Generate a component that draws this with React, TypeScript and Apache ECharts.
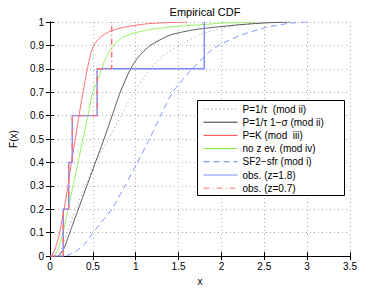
import React, { useEffect, useRef } from "react";
import * as echarts from "echarts";

// ---- data ----
const xTicks = [0, 0.5, 1, 1.5, 2, 2.5, 3, 3.5];
const yTicks = [0, 0.1, 0.2, 0.3, 0.4, 0.5, 0.6, 0.7, 0.8, 0.9, 1];

const seriesNames = [
  "P=1/τ  (mod ii)",
  "P=1/τ 1−σ (mod ii)",
  "P=K (mod  iii)",
  "no z ev. (mod iv)",
  "SF2−sfr (mod i)",
  "obs. (z=1.8)",
  "obs. (z=0.7)",
];

// P=1/tau (mod ii) – dotted
const dotX = [0.1, 0.2, 0.3, 0.41, 0.53, 0.68, 0.83, 0.98, 1.17, 1.32, 1.5, 1.75, 2.02, 2.35, 2.7];
const dotF = [0, 0.1, 0.2, 0.3, 0.4, 0.5, 0.6, 0.7, 0.8, 0.855, 0.9, 0.946, 0.975, 0.993, 1.0];

// P=1/tau 1-sigma (mod ii) – black
const blkX = [0.1, 0.16, 0.23, 0.33, 0.43, 0.53, 0.63, 0.725, 0.82, 0.94, 1.03, 1.17, 1.4, 1.65, 1.9, 2.2, 2.5, 2.8];
const blkF = [0, 0.03, 0.1, 0.2, 0.3, 0.4, 0.5, 0.6, 0.7, 0.8, 0.85, 0.9, 0.944, 0.965, 0.977, 0.988, 0.996, 1.0];

// P=K (mod iii) – red
const redX = [0.02, 0.06, 0.113, 0.163, 0.21, 0.25, 0.295, 0.338, 0.385, 0.435, 0.48, 0.51, 0.56, 0.62, 0.7, 0.8, 0.9, 1.0, 1.15, 1.35, 1.6];
const redF = [0, 0.03, 0.1, 0.2, 0.3, 0.4, 0.5, 0.6, 0.7, 0.8, 0.87, 0.9, 0.925, 0.944, 0.96, 0.972, 0.98, 0.986, 0.993, 0.997, 1.0];

// no z ev. (mod iv) – green
const grnX = [0.05, 0.085, 0.152, 0.21, 0.268, 0.327, 0.385, 0.443, 0.5, 0.58, 0.65, 0.74, 0.85, 0.97, 1.2, 1.5, 1.75, 2.0, 2.4];
const grnF = [0, 0.02, 0.1, 0.2, 0.3, 0.4, 0.5, 0.6, 0.7, 0.775, 0.845, 0.9, 0.935, 0.952, 0.97, 0.982, 0.988, 0.995, 1.0];

// SF2-sfr (mod i) – dashed blue
const dshX = [0.19, 0.3, 0.4, 0.5, 0.6, 0.72, 0.875, 1.02, 1.16, 1.29, 1.43, 1.66, 1.9, 2.2, 2.5, 2.8, 3.0];
const dshF = [0, 0.02, 0.05, 0.1, 0.145, 0.2, 0.3, 0.4, 0.5, 0.6, 0.7, 0.8, 0.885, 0.94, 0.975, 0.995, 1.0];

// observed empirical CDFs (steps)
const obs18X = [0, 0.155, 0.218, 0.26, 0.55, 1.8];
const obs18F = [0, 0.2, 0.4, 0.6, 0.8, 1.0];
const obs07X = [0, 0.155, 0.218, 0.26, 0.55, 0.72];
const obs07F = [0, 0.2, 0.4, 0.6, 0.8, 1.0];

const zip = (xs: number[], ys: number[]) => xs.map((x, i) => [x, ys[i]]);

const FONT = "Liberation Sans";

export default function App() {
  const ref = useRef<HTMLDivElement>(null);

  useEffect(() => {
    if (!ref.current) return;
    const chart = echarts.init(ref.current, undefined, { renderer: "svg" });

    const tickStyle = { show: true, inside: true, length: 4, lineStyle: { color: "#000" } };
    const lineAxis = { show: true, lineStyle: { color: "#000", width: 1 } };
    const grid = { show: true, lineStyle: { color: "#aaa", type: [1, 3] as any, width: 1 } };
    const labelStyle = { fontFamily: FONT, fontSize: 10, color: "#000" };

    const curve = (name: string, data: number[][], color: string, type: any, width = 0.8) => ({
      name,
      type: "line",
      data,
      symbol: "none",
      smooth: 0.2,
      xAxisIndex: 0,
      yAxisIndex: 0,
      lineStyle: { color, type, width },
      itemStyle: { color },
      emphasis: { disabled: true },
      z: 3,
    });

    const stepLine = (name: string, data: number[][], color: string, type: any, width: number, z: number) => ({
      name,
      type: "line",
      data,
      symbol: "none",
      step: "end",
      xAxisIndex: 0,
      yAxisIndex: 0,
      lineStyle: { color, type, width },
      itemStyle: { color },
      emphasis: { disabled: true },
      z,
    });

    chart.setOption({
      animation: false,
      backgroundColor: "#fff",
      title: {
        text: "Empirical CDF",
        left: 200,
        textAlign: "center",
        top: 1,
        textStyle: { fontFamily: FONT, fontSize: 11, fontWeight: "normal", color: "#000" },
      },
      grid: { left: 50, right: 36, top: 22, bottom: 33 },
      xAxis: [
        {
          type: "value",
          min: xTicks[0],
          max: xTicks[xTicks.length - 1],
          interval: 0.5,
          position: "bottom",
          axisLine: lineAxis,
          axisTick: tickStyle,
          splitLine: grid,
          axisLabel: { ...labelStyle, margin: 5 },
          name: "x",
          nameLocation: "middle",
          nameGap: 7,
          nameTextStyle: { fontFamily: FONT, fontSize: 10, color: "#000" },
        },
        {
          type: "value",
          min: xTicks[0],
          max: xTicks[xTicks.length - 1],
          interval: 0.5,
          position: "top",
          axisLine: lineAxis,
          axisTick: tickStyle,
          splitLine: { show: false },
          axisLabel: { show: false },
        },
      ],
      yAxis: [
        {
          type: "value",
          min: yTicks[0],
          max: yTicks[yTicks.length - 1],
          interval: 0.1,
          position: "left",
          axisLine: lineAxis,
          axisTick: tickStyle,
          splitLine: grid,
          axisLabel: { ...labelStyle, margin: 6 },
          name: "F(x)",
          nameLocation: "middle",
          nameGap: 32,
          nameRotate: 90,
          nameTextStyle: { fontFamily: FONT, fontSize: 10, color: "#000" },
        },
        {
          type: "value",
          min: yTicks[0],
          max: yTicks[yTicks.length - 1],
          interval: 0.1,
          position: "right",
          axisLine: lineAxis,
          axisTick: tickStyle,
          splitLine: { show: false },
          axisLabel: { show: false },
        },
      ],
      graphic: [
        {
          type: "rect",
          left: 197,
          top: 100,
          shape: { width: 147, height: 95 },
          style: { fill: "#fff", stroke: "#000", lineWidth: 1 },
          z: 10,
        },
      ],
      legend: {
        orient: "vertical",
        left: 203,
        top: 104,
        padding: 0,
        itemWidth: 34,
        itemHeight: 10,
        itemGap: 3.2,
        z: 20,
        data: seriesNames,
        itemStyle: { opacity: 0 },
        lineStyle: { width: 1 },
        textStyle: { fontFamily: FONT, fontSize: 10, color: "#000", lineHeight: 10 },
      },
      series: [
        curve(seriesNames[0], zip(dotX, dotF), "#7a7ac0", [1, 3]),
        curve(seriesNames[1], zip(blkX, blkF), "#333333", "solid"),
        curve(seriesNames[2], zip(redX, redF), "#ff4848", "solid"),
        curve(seriesNames[3], zip(grnX, grnF), "#7cee3c", "solid"),
        curve(seriesNames[4], zip(dshX, dshF), "#5f7cff", [6, 4]),
        stepLine(seriesNames[5], zip(obs18X, obs18F), "#7a8cff", "solid", 1.4, 4),
        stepLine(seriesNames[6], zip(obs07X, obs07F), "#ff7070", [6, 3, 1, 3], 1.4, 5),
      ],
    });

    return () => chart.dispose();
  }, []);

  return (
    <div
      ref={ref}
      style={{ position: "fixed", left: 0, top: 0, width: 386, height: 291, background: "#fff" }}
    />
  );
}
